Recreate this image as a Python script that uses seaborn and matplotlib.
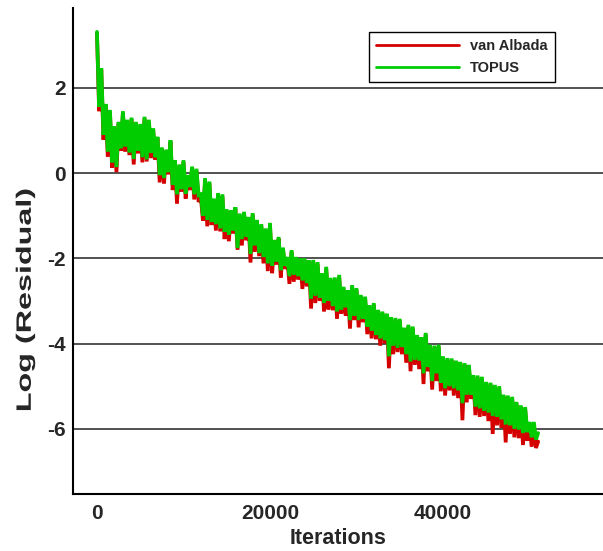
import numpy as np
import pandas as pd
import matplotlib
matplotlib.use("Agg")
import matplotlib.pyplot as plt
from matplotlib.ticker import MultipleLocator
from matplotlib.patheffects import AbstractPathEffect
from matplotlib.transforms import Affine2D
import seaborn as sns

# Iteration counter (sampled every 250 iterations)
iterations = list(range(0, 51001, 250))

# log10 of the residual, van Albada limiter
van_albada = [
    3.28, 1.45, 2.42, 0.78, 1.58, 0.38, 1.44, 0.12, 1.06, 0.02,
    1.16, 0.52, 1.41, 0.50, 1.21, 0.42, 1.26, 0.20, 1.16, 0.46,
    1.11, 0.25, 1.28, 0.27, 1.21, 0.35, 1.01, 0.31, 0.81, -0.22,
    0.56, -0.25, 0.51, -0.03, 0.73, -0.40, 0.26, -0.72, 0.16, -0.44,
    0.26, -0.60, -0.09, -0.40, 0.11, -0.62, 0.06, -0.68, -0.54, -1.12,
    -0.16, -1.25, -0.24, -1.22, -0.64, -1.35, -0.51, -1.37, -0.54, -1.55,
    -0.89, -1.60, -0.91, -1.42, -0.84, -1.80, -0.99, -1.70, -0.95, -1.58,
    -1.07, -2.10, -0.98, -1.85, -1.14, -1.95, -1.24, -2.12, -1.34, -2.30,
    -1.21, -2.35, -1.61, -2.15, -1.54, -2.45, -1.79, -2.25, -2.01, -2.60,
    -1.85, -2.55, -2.01, -2.50, -2.04, -2.72, -2.04, -2.66, -2.09, -3.18,
    -2.08, -3.05, -2.13, -3.00, -2.39, -3.25, -2.24, -3.20, -2.50, -3.22,
    -2.49, -3.42, -2.43, -3.30, -2.71, -3.35, -2.79, -3.65, -2.67, -3.45,
    -2.74, -3.62, -2.90, -3.50, -2.94, -3.78, -3.14, -3.88, -3.09, -3.90,
    -3.25, -4.05, -3.29, -4.00, -3.34, -4.58, -3.42, -4.25, -3.44, -4.20,
    -3.46, -4.25, -3.67, -4.45, -3.60, -4.65, -3.64, -4.50, -3.84, -4.60,
    -3.89, -4.95, -3.79, -4.65, -4.07, -5.08, -4.09, -4.88, -4.07, -5.12,
    -4.34, -5.22, -4.38, -5.10, -4.39, -5.22, -4.44, -5.28, -4.47, -5.80,
    -4.50, -5.38, -4.54, -5.30, -4.78, -5.68, -4.79, -5.72, -4.82, -5.70,
    -4.94, -5.82, -4.96, -6.12, -5.01, -5.92, -5.04, -5.98, -5.24, -6.32,
    -5.26, -6.12, -5.29, -6.20, -5.41, -6.22, -5.49, -6.38, -5.53, -6.28,
    -5.88, -6.42, -5.88, -6.45, -6.30,
]

# log10 of the residual, TOPUS limiter
topus = [
    3.31, 1.55, 2.46, 0.90, 1.62, 0.50, 1.48, 0.25, 1.10, 0.14,
    1.20, 0.58, 1.45, 0.62, 1.25, 0.48, 1.30, 0.33, 1.20, 0.52,
    1.15, 0.37, 1.32, 0.32, 1.25, 0.47, 1.05, 0.37, 0.85, -0.05,
    0.60, -0.12, 0.55, 0.02, 0.77, -0.28, 0.30, -0.50, 0.20, -0.38,
    0.30, -0.48, -0.05, -0.33, 0.15, -0.50, 0.10, -0.52, -0.50, -1.00,
    -0.12, -1.10, -0.20, -1.15, -0.60, -1.20, -0.47, -1.30, -0.50, -1.38,
    -0.85, -1.45, -0.87, -1.35, -0.80, -1.76, -0.95, -1.55, -0.91, -1.50,
    -1.03, -1.90, -0.94, -1.70, -1.10, -1.88, -1.20, -1.97, -1.30, -2.12,
    -1.17, -2.17, -1.57, -2.08, -1.50, -2.28, -1.75, -2.18, -1.97, -2.42,
    -1.81, -2.38, -1.97, -2.42, -2.00, -2.52, -2.00, -2.58, -2.05, -2.95,
    -2.04, -2.88, -2.09, -2.92, -2.35, -3.05, -2.20, -3.00, -2.46, -3.12,
    -2.45, -3.25, -2.39, -3.20, -2.67, -3.15, -2.75, -3.45, -2.63, -3.35,
    -2.70, -3.45, -2.86, -3.42, -2.90, -3.60, -3.10, -3.70, -3.05, -3.80,
    -3.21, -3.88, -3.25, -3.92, -3.30, -4.30, -3.38, -4.05, -3.40, -4.10,
    -3.42, -4.08, -3.63, -4.25, -3.56, -4.42, -3.60, -4.38, -3.80, -4.40,
    -3.85, -4.70, -3.75, -4.55, -4.03, -4.88, -4.05, -4.70, -4.03, -4.92,
    -4.30, -5.05, -4.34, -5.00, -4.35, -5.05, -4.40, -5.10, -4.43, -5.40,
    -4.46, -5.20, -4.50, -5.20, -4.74, -5.48, -4.75, -5.52, -4.78, -5.58,
    -4.90, -5.62, -4.92, -5.70, -4.97, -5.72, -5.00, -5.78, -5.20, -5.90,
    -5.22, -5.92, -5.25, -6.00, -5.37, -6.02, -5.45, -6.10, -5.49, -6.08,
    -5.84, -6.20, -5.84, -6.25, -6.10,
]

series_names = ["van Albada", "TOPUS"]
series_colors = ["#d40000", "#00cc00"]

df = pd.concat([
    pd.DataFrame({"Iterations": iterations, "res": van_albada, "scheme": series_names[0]}),
    pd.DataFrame({"Iterations": iterations, "res": topus, "scheme": series_names[1]}),
], ignore_index=True)


class StretchAlongY(AbstractPathEffect):
    """Stretch a drawn text path vertically about its own centre."""

    def __init__(self, factor):
        super().__init__()
        self.factor = factor

    def draw_path(self, renderer, gc, tpath, affine, rgbFace=None):
        bb = tpath.get_extents(affine)
        cx, cy = (bb.x0 + bb.x1) / 2, (bb.y0 + bb.y1) / 2
        stretch = Affine2D().translate(-cx, -cy).scale(1.0, self.factor).translate(cx, cy)
        renderer.draw_path(gc, tpath, affine + stretch, rgbFace)


sns.set_style("white")
plt.rcParams["font.family"] = ["Liberation Sans", "DejaVu Sans"]
plt.rcParams["font.weight"] = "bold"
plt.rcParams["axes.unicode_minus"] = False

fig = plt.figure(figsize=(6.03, 5.51), dpi=100)
ax = fig.add_axes([0.121, 0.1034, 0.879, 0.882])

sns.lineplot(data=df, x="Iterations", y="res", hue="scheme",
             hue_order=series_names, palette=series_colors,
             estimator=None, sort=False, linewidth=2.7, ax=ax)
for line in ax.get_lines():
    line.set_solid_joinstyle("miter")

ax.set_xlim(-2775, 58500)
ax.set_ylim(-7.53, 3.87)

ax.xaxis.set_major_locator(MultipleLocator(20000))
ax.xaxis.set_minor_locator(MultipleLocator(5000))
ax.yaxis.set_major_locator(MultipleLocator(2))
ax.yaxis.set_minor_locator(MultipleLocator(0.5))

ax.yaxis.grid(True, which="major", color="#333333", linewidth=1.2)
ax.xaxis.grid(False)
ax.set_axisbelow(True)

for side in ("top", "right"):
    ax.spines[side].set_visible(False)
for side in ("left", "bottom"):
    ax.spines[side].set_color("black")
    ax.spines[side].set_linewidth(1.5)

ax.tick_params(axis="both", which="both", direction="in", width=1.2, color="black")
ax.tick_params(axis="y", which="both", length=7, labelsize=15, pad=5)
ax.tick_params(axis="x", which="major", length=10, labelsize=15, pad=7)
ax.tick_params(axis="x", which="minor", length=6)
for lab in ax.get_xticklabels() + ax.get_yticklabels():
    lab.set_fontweight("bold")

ax.set_xlabel("Iterations", fontsize=15.5, fontweight="bold", labelpad=4)
ax.set_ylabel("Log (Residual)", fontsize=15, fontweight="bold")
ax.yaxis.label.set_path_effects([StretchAlongY(1.55)])
ax.yaxis.set_label_coords(-0.072, 0.40)

handles, labels = ax.get_legend_handles_labels()
leg = ax.legend(handles, labels, loc="upper left", bbox_to_anchor=(0.5585, 0.951),
                borderaxespad=0.0, frameon=True, fancybox=False, framealpha=1,
                edgecolor="black", handlelength=5.7, handletextpad=0.75,
                borderpad=0.5, labelspacing=0.55, prop={"weight": "bold", "size": 10.5})
leg.get_frame().set_linewidth(1.0)
for line in leg.get_lines():
    line.set_linewidth(2.0)

fig.savefig("out.png", dpi=100)
